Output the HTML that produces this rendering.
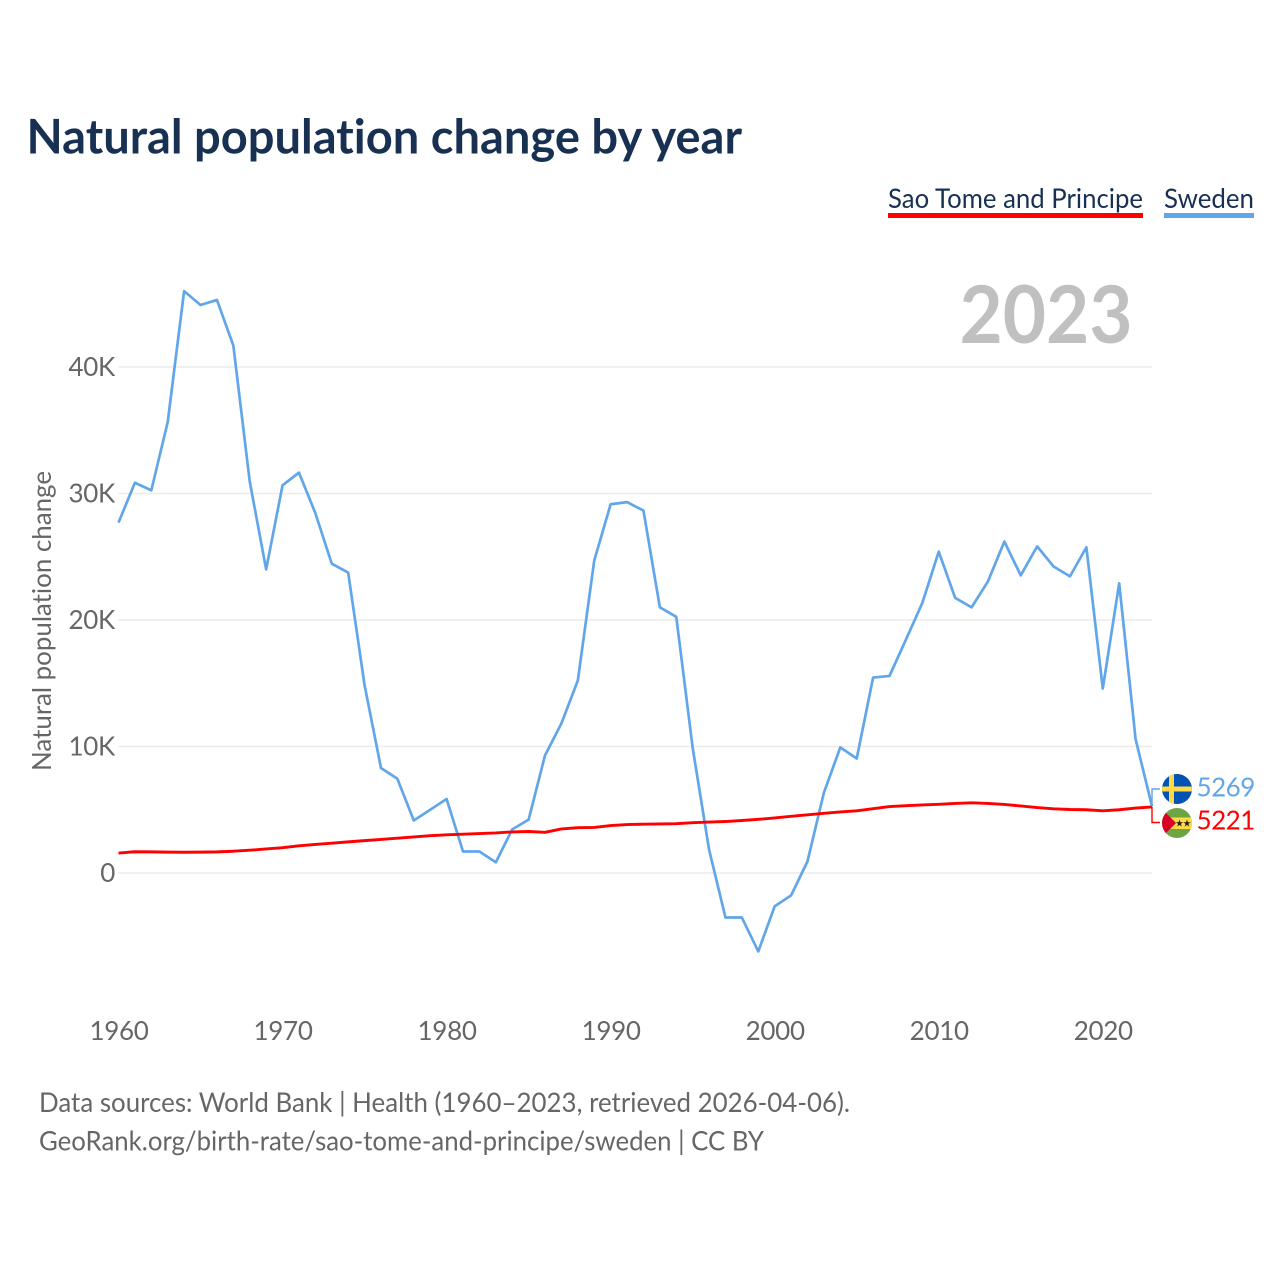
<!DOCTYPE html>
<html lang="en">
<head>
<meta charset="utf-8">
<title>Natural population change by year</title>
<style>
html,body{margin:0;padding:0;background:#fff;}
svg{display:block;}
text{font-family:"Lato","Carlito","Liberation Sans",sans-serif;font-variant-ligatures:none;font-kerning:normal;}
</style>
</head>
<body>
<svg id="chart" xmlns="http://www.w3.org/2000/svg" width="1280" height="1280" viewBox="0 0 1280 1280">
  <defs>
    <clipPath id="clip-se"><circle cx="1177" cy="789" r="15"/></clipPath>
    <clipPath id="clip-st"><circle cx="1177" cy="823" r="15"/></clipPath>
  </defs>
  <rect x="0" y="0" width="1280" height="1280" fill="#ffffff"/>
  <text x="26.500" y="153.500" font-size="47.500" font-weight="700" fill="#183153" textLength="715.500" lengthAdjust="spacingAndGlyphs">Natural population change by year</text>

  <g>
    <text x="888" y="208" font-size="27" fill="#183153" textLength="255" lengthAdjust="spacingAndGlyphs">Sao Tome and Principe</text>
    <rect x="888" y="213" width="255" height="5" fill="#ff0000"/>
  </g>
  <g>
    <text x="1164" y="208" font-size="27" fill="#183153" textLength="90" lengthAdjust="spacingAndGlyphs">Sweden</text>
    <rect x="1164" y="213" width="90" height="5" fill="#62a6ea"/>
  </g>

  <text x="959.500" y="343" font-size="80" font-weight="700" fill="#c0c0c0" textLength="173" lengthAdjust="spacingAndGlyphs">2023</text>

  <g id="grid"></g>
  <g id="y-ticks"></g>
  <g id="x-ticks"></g>
  <text transform="translate(51,771) rotate(-90)" x="0" y="0" font-size="26" fill="#666666" textLength="300" lengthAdjust="spacingAndGlyphs">Natural population change</text>

  <g id="series"></g>
  <g id="end-labels"></g>

  <g clip-path="url(#clip-se)">
    <rect x="1162" y="774" width="30" height="30" fill="#0052b4"/>
    <rect x="1169" y="774" width="5" height="30" fill="#ffda44"/>
    <rect x="1162" y="786.500" width="30" height="5" fill="#ffda44"/>
  </g>
  <g clip-path="url(#clip-st)">
    <rect x="1162" y="808" width="30" height="30" fill="#6da544"/>
    <rect x="1162" y="817.500" width="30" height="11.500" fill="#ffda44"/>
    <polygon points="1161,808 1176,823 1161,838" fill="#d80027"/>
    <polygon points="1179.500,819.500 1180.400,822.200 1183.200,822.200 1180.900,823.900 1181.800,826.600 1179.500,824.900 1177.200,826.600 1178.100,823.900 1175.800,822.200 1178.600,822.200" fill="#222222"/>
    <polygon points="1187,819.500 1187.900,822.200 1190.700,822.200 1188.400,823.900 1189.300,826.600 1187,824.900 1184.700,826.600 1185.600,823.900 1183.300,822.200 1186.100,822.200" fill="#222222"/>
  </g>

  <text x="39" y="1112" font-size="27" fill="#666666" textLength="811" lengthAdjust="spacingAndGlyphs">Data sources: World Bank | Health (1960–2023, retrieved 2026-04-06).</text>
  <text x="39" y="1150.500" font-size="27" fill="#666666" textLength="725" lengthAdjust="spacingAndGlyphs">GeoRank.org/birth-rate/sao-tome-and-principe/sweden | CC BY</text>
</svg>
<script>
const startYear = 1960;
const yTickValues = [0, 10000, 20000, 30000, 40000];
const yTickLabels = ['0', '10K', '20K', '30K', '40K'];
const xTickValues = [1960, 1970, 1980, 1990, 2000, 2010, 2020];
const xTickLabels = ['1960', '1970', '1980', '1990', '2000', '2010', '2020'];
const swedenValues = [27700,30850,30250,35650,46000,44900,45300,41700,30950,24000,30650,31650,28450,24450,23750,14850,8300,7450,4150,5000,5850,1700,1700,850,3450,4220,9300,11830,15220,24700,29150,29320,28650,21000,20250,9900,1850,-3520,-3520,-6200,-2630,-1770,920,6350,9930,9050,15450,15580,18450,21350,25400,21750,21000,23050,26200,23530,25820,24230,23450,25750,14580,22900,10580,5269];
const saoTomeValues = [1580,1680,1670,1650,1640,1650,1670,1720,1800,1900,2000,2150,2260,2360,2460,2560,2650,2750,2850,2950,3020,3070,3120,3170,3250,3280,3220,3480,3580,3600,3750,3830,3860,3880,3900,3980,4030,4070,4150,4240,4350,4480,4600,4720,4830,4920,5080,5250,5320,5380,5430,5500,5550,5500,5420,5300,5170,5070,5020,5000,4920,5000,5130,5221];

const NS = 'http://www.w3.org/2000/svg';
function xScale(year) { return 118.5 + (year - 1960) * (1152 - 118.5) / 63; }
function yScale(value) { return 873 - value * 0.01265; }
function make(tag, parent, attrs) {
  const el = document.createElementNS(NS, tag);
  for (const k in attrs) el.setAttribute(k, attrs[k]);
  parent.appendChild(el);
  return el;
}
const grid = document.getElementById('grid');
const yTicks = document.getElementById('y-ticks');
const xTicks = document.getElementById('x-ticks');
const series = document.getElementById('series');
const endLabels = document.getElementById('end-labels');

yTickValues.forEach(function (v, i) {
  const y = yScale(v);
  const line = make('line', grid, {x1: 118.5, x2: 1152, y1: y, y2: y, stroke: '#ececec', 'stroke-width': 1.5});
  
  
  const t = make('text', yTicks, {x: 115, y: y + 9, 'text-anchor': 'end', 'font-size': 26, fill: '#666666', 'letter-spacing': -0.3});
  t.textContent = yTickLabels[i];
  
  
});

xTickValues.forEach(function (v, i) {
  const t = make('text', xTicks, {x: xScale(v) + 0.5, y: 1040, 'text-anchor': 'middle', 'font-size': 26, fill: '#666666', 'letter-spacing': -0.3});
  t.textContent = xTickLabels[i];
  
  
});

function pathFor(values) {
  return values.map(function (v, i) {
    return (i ? 'L' : 'M') + xScale(startYear + i).toFixed(2) + ' ' + yScale(v).toFixed(2);
  }).join(' ');
}
const swedenLine = make('path', series, {d: pathFor(swedenValues), fill: 'none', stroke: '#62a6ea', 'stroke-width': 2.7, 'stroke-linejoin': 'round'});


const saoTomeLine = make('path', series, {d: pathFor(saoTomeValues), fill: 'none', stroke: '#ff0000', 'stroke-width': 2.9, 'stroke-linejoin': 'round'});



const lastX = xScale(startYear + swedenValues.length - 1);
const swedenEnd = yScale(swedenValues[swedenValues.length - 1]);
const saoTomeEnd = yScale(saoTomeValues[saoTomeValues.length - 1]);
const swedenConnector = make('path', endLabels, {d: 'M' + lastX + ' ' + swedenEnd + ' V789 H1160', fill: 'none', stroke: '#62a6ea', 'stroke-width': 1.4});


const saoTomeConnector = make('path', endLabels, {d: 'M' + lastX + ' ' + saoTomeEnd + ' V822.5 H1160', fill: 'none', stroke: '#ff0000', 'stroke-width': 1.4});



const swedenLabel = make('text', endLabels, {x: 1196.5, y: 796.5, 'font-size': 26, fill: '#62a6ea', 'letter-spacing': -0.5});
swedenLabel.textContent = String(swedenValues[swedenValues.length - 1]);


const saoTomeLabel = make('text', endLabels, {x: 1196.5, y: 829.5, 'font-size': 26, fill: '#ff0000', 'letter-spacing': -0.5});
saoTomeLabel.textContent = String(saoTomeValues[saoTomeValues.length - 1]);


</script>
</body>
</html>
